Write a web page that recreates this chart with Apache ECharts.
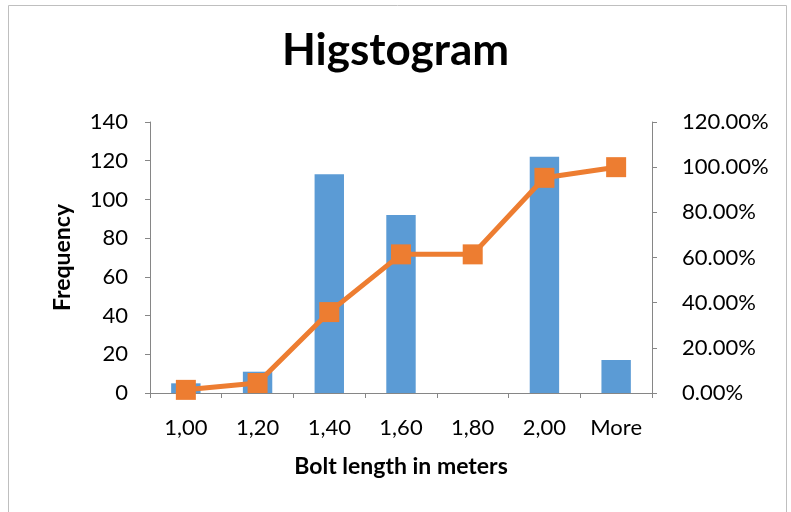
<!DOCTYPE html>
<html>
<head>
<meta charset="utf-8">
<script src="https://cdn.jsdelivr.net/npm/echarts@6/dist/echarts.min.js"></script>
<style>
  html, body { margin: 0; padding: 0; background: #fff; }
  #chart { width: 791px; height: 512px; }
</style>
</head>
<body>
<div id="chart"></div>
<script>
// Bin labels and counts of bolt lengths
const bins = ['1,00', '1,20', '1,40', '1,60', '1,80', '2,00', 'More'];
const frequency = [5, 11, 113, 92, 0, 122, 17];
// Cumulative share (%) per bin
const cumulativePct = [1.39, 4.44, 35.83, 61.39, 61.39, 95.28, 100];

const FONT = 'Lato, "Open Sans", sans-serif';
const AXIS_COLOR = '#868686';

const chart = echarts.init(document.getElementById('chart'), null, { renderer: 'canvas' });

chart.setOption({
  animation: false,
  backgroundColor: '#fff',
  title: {
    text: 'Higstogram',
    left: 'center',
    top: 24,
    textStyle: { fontFamily: FONT, fontSize: 44, fontWeight: 'bold', color: '#000' }
  },
  graphic: [{
    type: 'rect',
    shape: { x: 8.5, y: 5.5, width: 778, height: 520 },
    style: { fill: 'none', stroke: '#bfbfbf', lineWidth: 1 },
    silent: true
  }],
  grid: { left: 150, right: 139, top: 122, bottom: 119 },
  xAxis: {
    type: 'category',
    data: bins,
    name: 'Bolt length in meters',
    nameLocation: 'middle',
    nameGap: 62,
    nameTextStyle: { fontFamily: FONT, fontSize: 23, fontWeight: 'bold', color: '#000' },
    axisLine: { lineStyle: { color: AXIS_COLOR, width: 1 } },
    axisTick: { show: true, length: 5, lineStyle: { color: AXIS_COLOR } },
    axisLabel: { fontFamily: FONT, fontSize: 22, color: '#000', margin: 24 }
  },
  yAxis: [{
    type: 'value',
    min: 0, max: 140, interval: 20,
    name: 'Frequency',
    nameLocation: 'middle',
    nameGap: 76,
    nameRotate: 90,
    nameTextStyle: { fontFamily: FONT, fontSize: 23, fontWeight: 'bold', color: '#000' },
    axisLine: { show: true, lineStyle: { color: AXIS_COLOR, width: 1 } },
    axisTick: { show: true, length: 5, lineStyle: { color: AXIS_COLOR } },
    axisLabel: { fontFamily: FONT, fontSize: 22, color: '#000', margin: 22 },
    splitLine: { show: false }
  }, {
    type: 'value',
    min: 0, max: 120, interval: 20,
    position: 'right',
    axisLine: { show: true, lineStyle: { color: AXIS_COLOR, width: 1 } },
    axisTick: { show: true, length: 5, lineStyle: { color: AXIS_COLOR } },
    axisLabel: {
      fontFamily: FONT, fontSize: 22, color: '#000', margin: 30,
      formatter: v => v.toFixed(2) + '%'
    },
    splitLine: { show: false }
  }],
  series: [{
    name: 'Frequency',
    type: 'bar',
    data: frequency,
    barWidth: '41%',
    itemStyle: { color: '#5B9BD5' }
  }, {
    name: 'Cumulative %',
    type: 'line',
    yAxisIndex: 1,
    data: cumulativePct,
    symbol: 'rect',
    symbolSize: 20,
    lineStyle: { color: '#ED7D31', width: 5 },
    itemStyle: { color: '#ED7D31' }
  }]
});
</script>
</body>
</html>
